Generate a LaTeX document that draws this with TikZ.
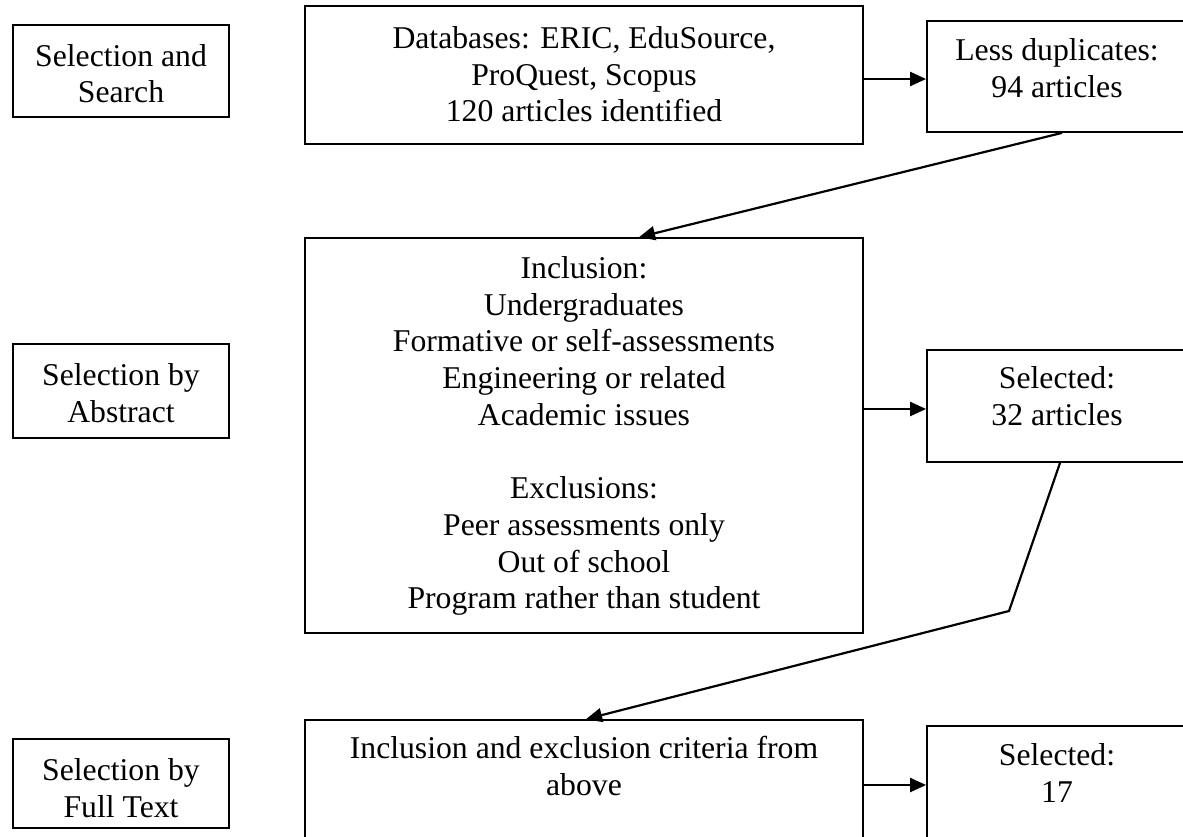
\documentclass[tikz,border=0pt]{standalone}
\usepackage{fontspec}
\setmainfont{Liberation Serif}
\usetikzlibrary{arrows.meta}
\begin{document}
\begin{tikzpicture}[x=1pt,y=-1pt,
  font=\fontsize{31.7}{36.7}\selectfont,
  box/.style={draw=black, line width=1.8pt, rectangle, inner sep=0pt, fill=none},
  txt/.style={align=center, inner sep=0pt, anchor=north},
  arr/.style={line width=2.2pt, -{Triangle[length=16pt,width=14pt]}}]
\useasboundingbox (0,0) rectangle (1183,837);
% boxes
\node[box, minimum width=216pt, minimum height=92pt] (l1) at (121,71) {};
\node[box, minimum width=216pt, minimum height=94pt] (l2) at (121,391) {};
\node[box, minimum width=216pt, minimum height=89pt] (l3) at (121,783.5) {};
\node[box, minimum width=558pt, minimum height=138pt] (db) at (584,75) {};
\node[box, minimum width=260pt, minimum height=111pt] (ld) at (1057,76.5) {};
\node[box, minimum width=558pt, minimum height=395pt] (inc) at (584,435.5) {};
\node[box, minimum width=260pt, minimum height=112pt] (s32) at (1057,406) {};
\node[box, minimum width=558pt, minimum height=130pt] (bx) at (584,785) {};
\node[box, minimum width=260pt, minimum height=118pt] (s17) at (1057,785) {};
% texts
\node[txt] (l1t) at (121,44) {Selection and\\Search};
\node[txt] (l2t) at (121,363.3) {Selection by\\Abstract};
\node[txt] (l3t) at (121,758.3) {Selection by\\Full Text};
\node[txt] (dbt) at (584,26.3) {Databases: ERIC, EduSource,\\ProQuest, Scopus\\120 articles identified};
\node[txt] (ldt) at (1057,38.3) {Less duplicates:\\94 articles};
\node[txt] (inct) at (584,256.3) {Inclusion:\\Undergraduates\\Formative or self-assessments\\Engineering or related\\Academic issues\\[36.7pt]Exclusions:\\Peer assessments only\\Out of school\\Program rather than student};
\node[txt] (s32t) at (1057,366.3) {Selected:\\32 articles};
\node[txt] (bxt) at (584,736.3) {Inclusion and exclusion criteria from\\above};
\node[txt] (s17t) at (1057,743.3) {Selected:\\17};
% connectors
\coordinate (bend) at (1009,611);
\draw[arr] ([yshift=-4pt]db.east) -- ([yshift=-4pt]db.east -| ld.west);
\draw[arr] ([xshift=5pt]ld.south) -- ([xshift=335pt]inc.north west);
\draw[arr] ([yshift=-3pt]s32.west -| inc.east) -- ([yshift=-3pt]s32.west);
\draw[arr] ([xshift=3pt]s32.south) -- (bend) -- ([xshift=282pt]bx.north west);
\draw[arr] (bx.east) -- (bx.east -| s17.west);
\end{tikzpicture}
\end{document}
